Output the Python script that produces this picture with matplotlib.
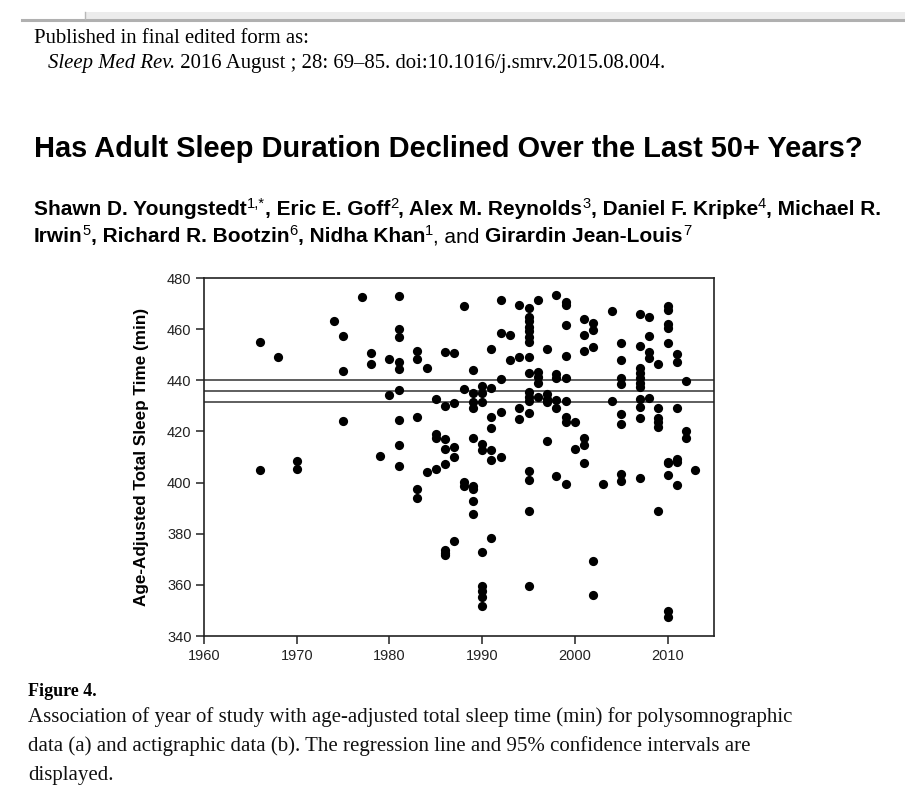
import matplotlib
matplotlib.use("Agg")
import matplotlib.pyplot as plt
from matplotlib.lines import Line2D
from matplotlib.patches import Rectangle

W, H = 905, 809

# ---- data (year of study, age-adjusted TST in min)
points = {
    1966: [454.9, 404.8],
    1968: [449.3],
    1970: [408.5, 405.5],
    1974: [463.3],
    1975: [457.4, 443.6, 424.0],
    1977: [472.7],
    1978: [450.6, 446.4],
    1979: [410.3],
    1980: [448.4, 434.2],
    1981: [472.9, 460.1, 457.1, 447.3, 444.3, 436.1, 424.3, 414.6, 406.5],
    1983: [451.6, 448.2, 425.6, 397.4, 394.0],
    1984: [444.7, 404.2],
    1985: [432.7, 418.8, 417.5, 405.5],
    1986: [451.0, 429.9, 417.0, 413.3, 407.1, 373.5, 372.5, 371.5],
    1987: [450.6, 431.0, 414.0, 410.0, 377.0],
    1988: [468.9, 436.5, 400.2, 398.7],
    1989: [444.0, 435.0, 431.6, 429.0, 417.6, 398.7, 397.4, 392.7, 387.6],
    1990: [437.9, 435.0, 431.6, 415.0, 412.9, 372.8, 359.5, 357.5, 355.1, 351.6],
    1991: [452.3, 437.1, 425.5, 421.4, 412.9, 409.0, 378.3],
    1992: [471.5, 458.4, 440.5, 427.7, 410.0],
    1993: [457.8, 448.0],
    1994: [469.3, 449.3, 429.0, 424.8],
    1995: [468.2, 464.9, 463.0, 461.0, 459.1, 457.1, 455.1, 449.3, 442.7,
           435.5, 433.6, 431.9, 427.1, 404.5, 401.2, 388.9, 359.5],
    1996: [471.5, 443.4, 441.4, 439.1, 433.6],
    1997: [452.2, 434.5, 432.7, 431.4, 416.3],
    1998: [473.5, 442.5, 440.8, 432.3, 429.0, 402.5],
    1999: [470.8, 469.3, 461.7, 449.5, 441.0, 431.9, 425.7, 423.8, 399.6],
    2000: [423.5, 413.3],
    2001: [464.0, 457.8, 451.5, 417.3, 414.6, 407.5],
    2002: [462.4, 459.7, 453.2, 369.5, 356.1],
    2003: [399.6],
    2004: [466.9, 431.9],
    2005: [454.7, 448.0, 440.8, 438.5, 426.7, 423.1, 403.5, 400.6],
    2007: [465.9, 453.6, 444.7, 442.7, 440.8, 438.8, 437.3, 432.5, 429.6,
           425.3, 401.6],
    2008: [464.7, 457.4, 451.0, 448.6, 432.9],
    2009: [446.3, 429.3, 425.3, 423.8, 421.8, 388.9],
    2010: [468.9, 467.6, 462.0, 460.4, 454.7, 408.1, 407.5, 403.1, 349.9, 347.6],
    2011: [450.2, 447.3, 429.3, 409.4, 408.1, 399.2],
    2012: [439.8, 420.2, 417.6],
    2013: [404.8],
}
years = [y for y, vals in points.items() for _ in vals]
tst = [v for vals in points.values() for v in vals]

# regression line with 95% CI (flat across the range)
fit_x = [1960, 2015]
fit_y = [435.8, 435.8]
ci_low = [431.4, 431.4]
ci_high = [440.3, 440.3]

xticks = [1960, 1970, 1980, 1990, 2000, 2010]
yticks = [340, 360, 380, 400, 420, 440, 460, 480]

SANS = "Liberation Sans"
SERIF = "Liberation Serif"

fig = plt.figure(figsize=(W / 100, H / 100), dpi=100)
fig.patch.set_facecolor("white")


def fx(px):
    return px / W


def fy(py):
    return 1 - py / H


# page header strip
fig.add_artist(Rectangle((fx(85), fy(19)), fx(905 - 85), 7 / H, transform=fig.transFigure,
                         facecolor="#ececec", edgecolor="none"))
fig.add_artist(Line2D([fx(22), fx(905)], [fy(19.5), fy(19.5)], color="#b0b0b0", lw=2.2))
fig.add_artist(Line2D([fx(85), fx(85)], [fy(12), fy(19)], color="#b8b8b8", lw=1))

renderer = fig.canvas.get_renderer()


def runs(x, y, parts):
    # draw text pieces one after another on a common baseline
    for text, kw in parts:
        kw = dict(kw)
        dy = kw.pop("dy", 0)
        t = fig.text(fx(x), fy(y - dy), text, ha="left", va="baseline", **kw)
        x += t.get_window_extent(renderer).width


serif = dict(family=SERIF, size=14.95, color="black")
runs(34, 43, [("Published in final edited form as:", serif)])
runs(48, 68, [("Sleep Med Rev.", dict(serif, style="italic")),
              (" 2016 August ; 28: 69\u201385. doi:10.1016/j.smrv.2015.08.004.", serif)])

fig.text(fx(34), fy(157), "Has Adult Sleep Duration Declined Over the Last 50+ Years?",
         family=SANS, weight="bold", size=20.9, ha="left", va="baseline")

b = dict(family=SANS, weight="bold", size=15)
sup = dict(family=SANS, size=10.6, dy=7)
reg = dict(family=SANS, size=15)
runs(34, 215, [("Shawn D. Youngstedt", b), ("1,*", sup), (", Eric E. Goff", b), ("2", sup),
               (", Alex M. Reynolds", b), ("3", sup), (", Daniel F. Kripke", b), ("4", sup),
               (", Michael R.", b)])
runs(34, 242, [("Irwin", b), ("5", sup), (", Richard R. Bootzin", b), ("6", sup),
               (", Nidha Khan", b), ("1", sup), (", and ", reg),
               ("Girardin Jean-Louis", b), ("7", sup)])

# ---- the scatter plot
ax = fig.add_axes([fx(204), fy(636), fx(714 - 204), (636 - 278) / H])
ax.scatter(years, tst, s=44, color="black", marker="o", linewidths=0, zorder=3)
ax.plot(fit_x, fit_y, color="#333333", lw=1.1, zorder=2)
ax.plot(fit_x, ci_low, color="#333333", lw=1.1, zorder=2)
ax.plot(fit_x, ci_high, color="#333333", lw=1.1, zorder=2)

ax.set_xlim(1960, 2015)
ax.set_ylim(340, 480)
ax.set_xticks(xticks)
ax.set_yticks(yticks)
for s in ax.spines.values():
    s.set_linewidth(1.2)
    s.set_color("#222222")
ax.tick_params(direction="out", length=6, width=1.1, labelsize=10.5, colors="#222222",
               pad=3)
for lab in ax.get_xticklabels() + ax.get_yticklabels():
    lab.set_family(SANS)
ax.set_ylabel("Age-Adjusted Total Sleep Time (min)", family=SANS, weight="bold",
              size=12.3, labelpad=13)

# ---- caption
runs(28, 696, [("Figure 4.", dict(family=SERIF, weight="bold", size=13))])
cap = dict(family=SERIF, size=15.0, color="#111111")
runs(28, 722, [("Association of year of study with age-adjusted total sleep time (min) for polysomnographic", cap)])
runs(28, 751, [("data (a) and actigraphic data (b). The regression line and 95% confidence intervals are", cap)])
runs(28, 780, [("displayed.", cap)])

plt.savefig("out.png", dpi=100, facecolor="white")
